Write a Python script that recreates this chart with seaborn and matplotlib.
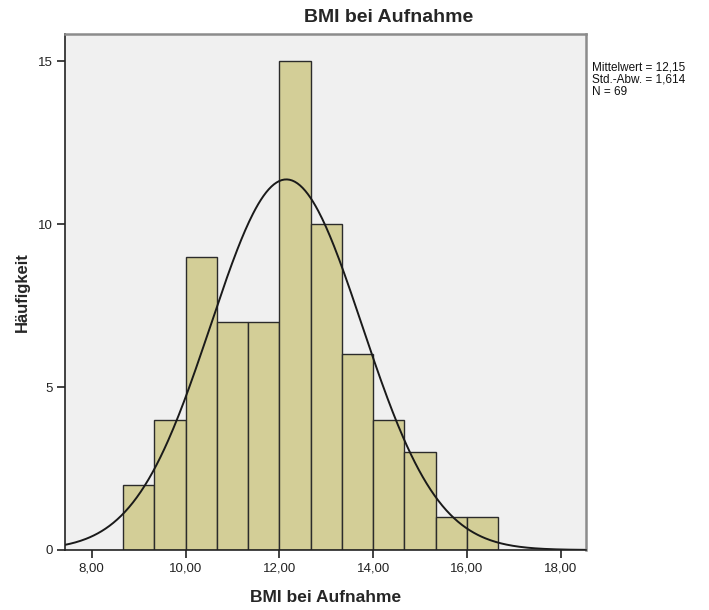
import numpy as np
import pandas as pd
import matplotlib
matplotlib.use("Agg")
import matplotlib.pyplot as plt
import seaborn as sns

# ---- data ----
bin_edges = [8.6667, 9.3333, 10.0, 10.6667, 11.3333, 12.0, 12.6667,
             13.3333, 14.0, 14.6667, 15.3333, 16.0, 16.6667]
counts = [2, 4, 9, 7, 7, 15, 10, 6, 4, 3, 1, 1]
mean_val = 12.15
sd_val = 1.614
n_val = 69
x_ticks = [8, 10, 12, 14, 16, 18]
x_tick_labels = ["8,00", "10,00", "12,00", "14,00", "16,00", "18,00"]
y_ticks = [0, 5, 10, 15]
title = "BMI bei Aufnahme"
x_label = "BMI bei Aufnahme"
y_label = "Häufigkeit"
stats_text = ["Mittelwert = 12,15", "Std.-Abw. = 1,614", "N = 69"]

sns.set_style("white")
plt.rcParams['font.family'] = ['Liberation Sans', 'DejaVu Sans']

centers = [(bin_edges[i] + bin_edges[i + 1]) / 2 for i in range(len(counts))]
df = pd.DataFrame({"bmi": centers, "n": counts})

fig = plt.figure(figsize=(7.09, 6.10), dpi=100)
ax = fig.add_axes([65 / 709, 1 - 550 / 610, (586 - 65) / 709, (550 - 34) / 610])
ax.set_facecolor("#F0F0F0")

sns.histplot(data=df, x="bmi", weights="n", bins=bin_edges, ax=ax,
             color="#D3CE97", edgecolor="#2b2b2b", linewidth=1.0, alpha=1.0)

# normal curve
xlim = (7.43, 18.54)
bw = bin_edges[1] - bin_edges[0]
xs = np.linspace(xlim[0], xlim[1], 400)
ys = n_val * bw / (sd_val * np.sqrt(2 * np.pi)) * np.exp(-0.5 * ((xs - mean_val) / sd_val) ** 2)
sns.lineplot(x=xs, y=ys, ax=ax, color="#1a1a1a", linewidth=1.4)

ax.set_xlim(*xlim)
ax.set_ylim(0, 15.83)
ax.set_xticks(x_ticks)
ax.set_xticklabels(x_tick_labels)
ax.set_yticks(y_ticks)
ax.tick_params(axis="both", which="major", bottom=True, left=True,
               direction="out", length=6, width=1.2, color="#222222",
               labelsize=9.5, labelcolor="#222222", pad=3)

for s in ["left", "bottom"]:
    ax.spines[s].set_color("#222222")
    ax.spines[s].set_linewidth(1.2)
for s in ["top", "right"]:
    ax.spines[s].set_color("#8c8c8c")
    ax.spines[s].set_linewidth(1.8)

ax.set_xlabel(x_label, fontsize=12.5, fontweight="bold")
ax.xaxis.set_label_coords(0.5, -(590 - 550) / 516)
ax.set_ylabel(y_label, fontsize=12, fontweight="bold")
ax.yaxis.set_label_coords(-(65 - 30) / 521, 0.5)
fig.text(389 / 709, 1 - 17 / 610, title, ha="center", va="center",
         fontsize=14, fontweight="bold")

fig.text(592 / 709, 1 - 80 / 610, "\n".join(stats_text), ha="left", va="center",
         fontsize=8.5, linespacing=1.05, color="#111111")

fig.savefig("out.png", dpi=100, facecolor="white")
